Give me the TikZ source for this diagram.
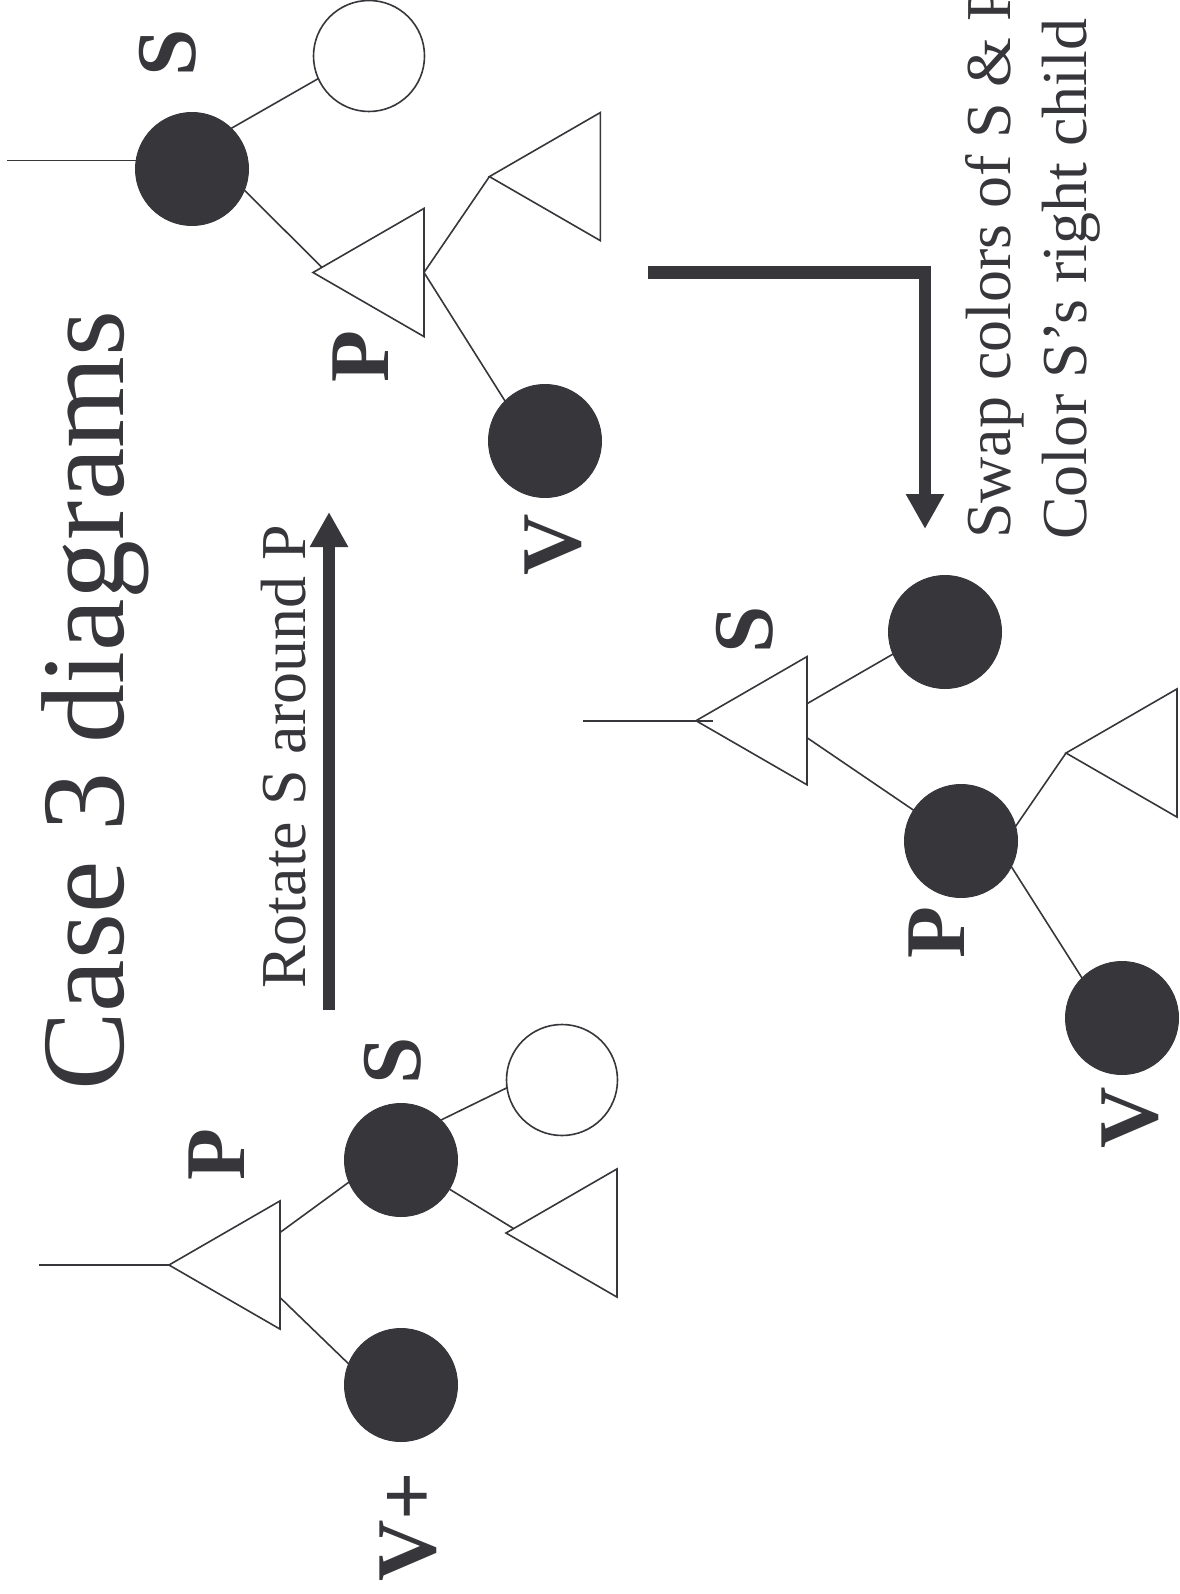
\documentclass[tikz,border=0pt]{standalone}
\usepackage{fontspec}
\setmainfont{Liberation Serif}
\usetikzlibrary{shapes.geometric,arrows.meta,calc}
\definecolor{ink}{RGB}{55,54,59}
\begin{document}
\begin{tikzpicture}[x=1pt,y=-1pt,
  blk/.style={circle,fill=ink,draw=ink,line width=1pt,minimum size=113pt,inner sep=0pt,outer sep=0pt},
  wht/.style={circle,draw=ink,fill=white,line width=1.6pt,minimum size=111pt,inner sep=0pt,outer sep=0pt},
  tri/.style={regular polygon,regular polygon sides=3,shape border rotate=90,draw=ink,fill=white,line width=1.6pt,minimum size=148pt,inner sep=0pt,outer sep=0pt},
  ln/.style={draw=ink,line width=1.6pt},
  fat/.style={draw=ink,line width=12.5pt,-{Triangle[length=35pt,width=36pt]}},
  lbl/.style={rotate=90,text=ink,inner sep=0pt,font=\fontsize{85}{85}\selectfont\bfseries},
  txt/.style={rotate=90,text=ink,inner sep=0pt,anchor=base west,font=\fontsize{64}{64}\selectfont},
  ttl/.style={rotate=90,text=ink,inner sep=0pt,anchor=base west,font=\fontsize{118}{118}\selectfont}]
\useasboundingbox (0,0) rectangle (1179,1594);

% title and captions
\node[ttl] (title) at (123,1091) {Case 3 diagrams};
\node[txt] (rot) at (305,989) {Rotate S around P};
\node[txt] (swap1) at (1010,539) {Swap colors of S \& P};
\node[txt] (swap2) at (1086,540) {Color S’s right child};

% arrows
\coordinate (rotA) at (329,1010);
\coordinate (rotB) at (329,512);
\draw[fat] (rotA) -- (rotB);
\coordinate (elA) at (648,272.4);
\coordinate (elB) at (925,529);
\draw[fat] (elA) -| (elB);

% ---------- tree 1 (bottom left) ----------
\node[tri] (t1P) at (243,1265) {};
\node[blk] (t1s) at (401,1160) {};
\node[wht] (t1w) at (562,1080) {};
\node[tri] (t1a) at (580,1233) {};
\node[blk] (t1v) at (401,1385) {};
\coordinate (r1) at (39,1265);
\coordinate (t1m) at ($(t1P.corner 2)!0.5!(t1P.corner 3)$);
\draw[ln] (r1) -- (t1P.corner 1);
\draw[ln] ($(t1m)+(0,-32.5)$) -- (t1s.203);
\draw[ln] ($(t1m)+(0,32.5)$) -- (t1v.158);
\draw[ln] (t1s.45) -- (t1w.188);
\draw[ln] (t1s.-31) -- ($(t1a.corner 1)+(7.5,-4.5)$);
\node[lbl] (l1P) at (217,1155) {P};
\node[lbl] (l1S) at (393,1061) {S};
\node[lbl] (l1V) at (408,1527) {V+};

% ---------- tree 2 (top left) ----------
\node[blk] (t2s) at (192,169) {};
\node[wht] (t2w) at (369,56) {};
\node[tri] (t2P) at (387,272.5) {};
\node[tri] (t2a) at (563.4,176.6) {};
\node[blk] (t2v) at (545,441) {};
\coordinate (r2) at (7,160.5);
\coordinate (t2m) at ($(t2P.corner 2)!0.5!(t2P.corner 3)$);
\draw[ln] (r2) -- (r2 -| t2s.west);
\draw[ln] (t2s.46) -- (t2w.204);
\draw[ln] (t2s.-22) -- ($(t2P.corner 1)+(9,-5)$);
\draw[ln] (t2m) -- (t2a.corner 1);
\draw[ln] (t2m) -- (t2v.135);
\node[lbl] (l2S) at (168,53) {S};
\node[lbl] (l2P) at (361,356.5) {P};
\node[lbl] (l2V) at (553,545) {V};

% ---------- tree 3 (right) ----------
\node[tri] (t3S) at (770,720.7) {};
\node[blk] (t3t) at (945,632) {};
\node[blk] (t3p) at (961,841) {};
\node[tri] (t3a) at (1140,753) {};
\node[blk] (t3v) at (1122,1018) {};
\coordinate (r3) at (583,720.7);
\coordinate (t3m) at ($(t3S.corner 2)!0.5!(t3S.corner 3)$);
\draw[ln] (r3) -- ($(t3S.corner 1)+(17,0)$);
\draw[ln] ($(t3m)+(0,-17)$) -- (t3t.203);
\draw[ln] ($(t3m)+(0,17)$) -- (t3p.147);
\draw[ln] (t3p.15) -- (t3a.corner 1);
\draw[ln] (t3p.-27) -- (t3v.135);
\node[lbl] (l3S) at (745,630) {S};
\node[lbl] (l3P) at (937,933) {P};
\node[lbl] (l3V) at (1130,1118) {V};
\end{tikzpicture}
\end{document}
